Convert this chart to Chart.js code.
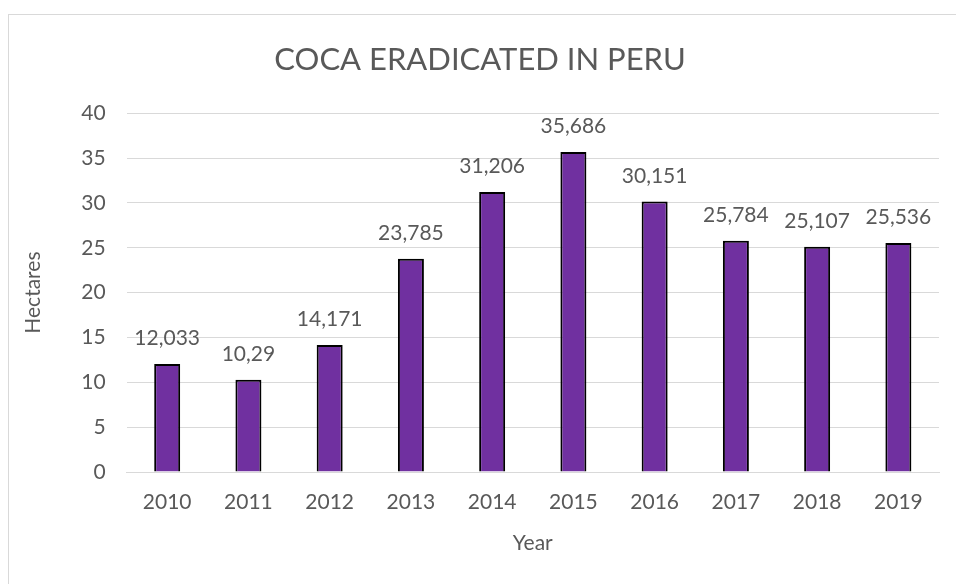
<!DOCTYPE html>
<html>
<head>
<meta charset="utf-8">
<script src="https://cdn.jsdelivr.net/npm/chart.js@4/dist/chart.umd.min.js"></script>
<style>
html,body{margin:0;padding:0;background:#fff;}
#frame{position:absolute;left:8px;top:14px;width:1200px;height:800px;border:1px solid #d9d9d9;}
#wrap{position:absolute;left:0;top:0;width:956px;height:584px;}
</style>
</head>
<body>
<div id="frame"></div>
<div id="wrap"><canvas id="c" width="956" height="584"></canvas></div>
<script>
const years = ['2010','2011','2012','2013','2014','2015','2016','2017','2018','2019'];
const hectares = [12.033, 10.29, 14.171, 23.785, 31.206, 35.686, 30.151, 25.784, 25.107, 25.536];
const yTicks = [0, 5, 10, 15, 20, 25, 30, 35, 40];

const FONT = 'Lato, "Open Sans", sans-serif';
const GRAY = '#595959';

const labelPlugin = {
  id: 'barLabels',
  afterDatasetsDraw(chart) {
    const ctx = chart.ctx;
    const meta = chart.getDatasetMeta(0);
    ctx.save();
    ctx.font = '21px ' + FONT;
    ctx.fillStyle = GRAY;
    ctx.textAlign = 'center';
    ctx.textBaseline = 'alphabetic';
    meta.data.forEach((bar, i) => {
      const txt = String(hectares[i]).replace('.', ',');
      ctx.fillText(txt, bar.x, bar.y - 19);
    });
    ctx.restore();
  }
};

new Chart(document.getElementById('c'), {
  type: 'bar',
  data: {
    labels: years,
    datasets: [{
      data: hectares,
      backgroundColor: '#7030A0',
      borderColor: '#000000',
      borderWidth: 2,
      categoryPercentage: 1.0,
      barPercentage: 0.32
    }]
  },
  options: {
    responsive: false,
    animation: false,
    devicePixelRatio: 1,
    layout: { padding: { left: 21, right: 17, top: 41, bottom: 28 } },
    plugins: {
      legend: { display: false },
      tooltip: { enabled: false },
      title: {
        display: true,
        text: 'COCA ERADICATED IN PERU',
        color: GRAY,
        font: { family: FONT, size: 31, weight: 'normal' },
        padding: { top: 0, bottom: 35 }
      }
    },
    scales: {
      x: {
        grid: { display: false, drawTicks: false },
        border: { display: true, color: '#d9d9d9', width: 1 },
        ticks: { color: GRAY, font: { family: FONT, size: 21 }, padding: 18 },
        title: { display: true, text: 'Year', color: GRAY, font: { family: FONT, size: 21 }, padding: { top: 0, bottom: 0 } },
        afterFit(scale) { scale.height = 84; }
      },
      y: {
        min: 0, max: 40,
        afterBuildTicks(scale) { scale.ticks = yTicks.map(v => ({ value: v })); },
        grid: { color: '#d9d9d9', lineWidth: 1, drawTicks: false },
        border: { display: false },
        ticks: { color: GRAY, font: { family: FONT, size: 21 }, padding: 21 },
        title: { display: true, text: 'Hectares', color: GRAY, font: { family: FONT, size: 21 }, padding: { top: 0, bottom: 14 } }
      }
    }
  },
  plugins: [labelPlugin]
});
</script>
</body>
</html>
